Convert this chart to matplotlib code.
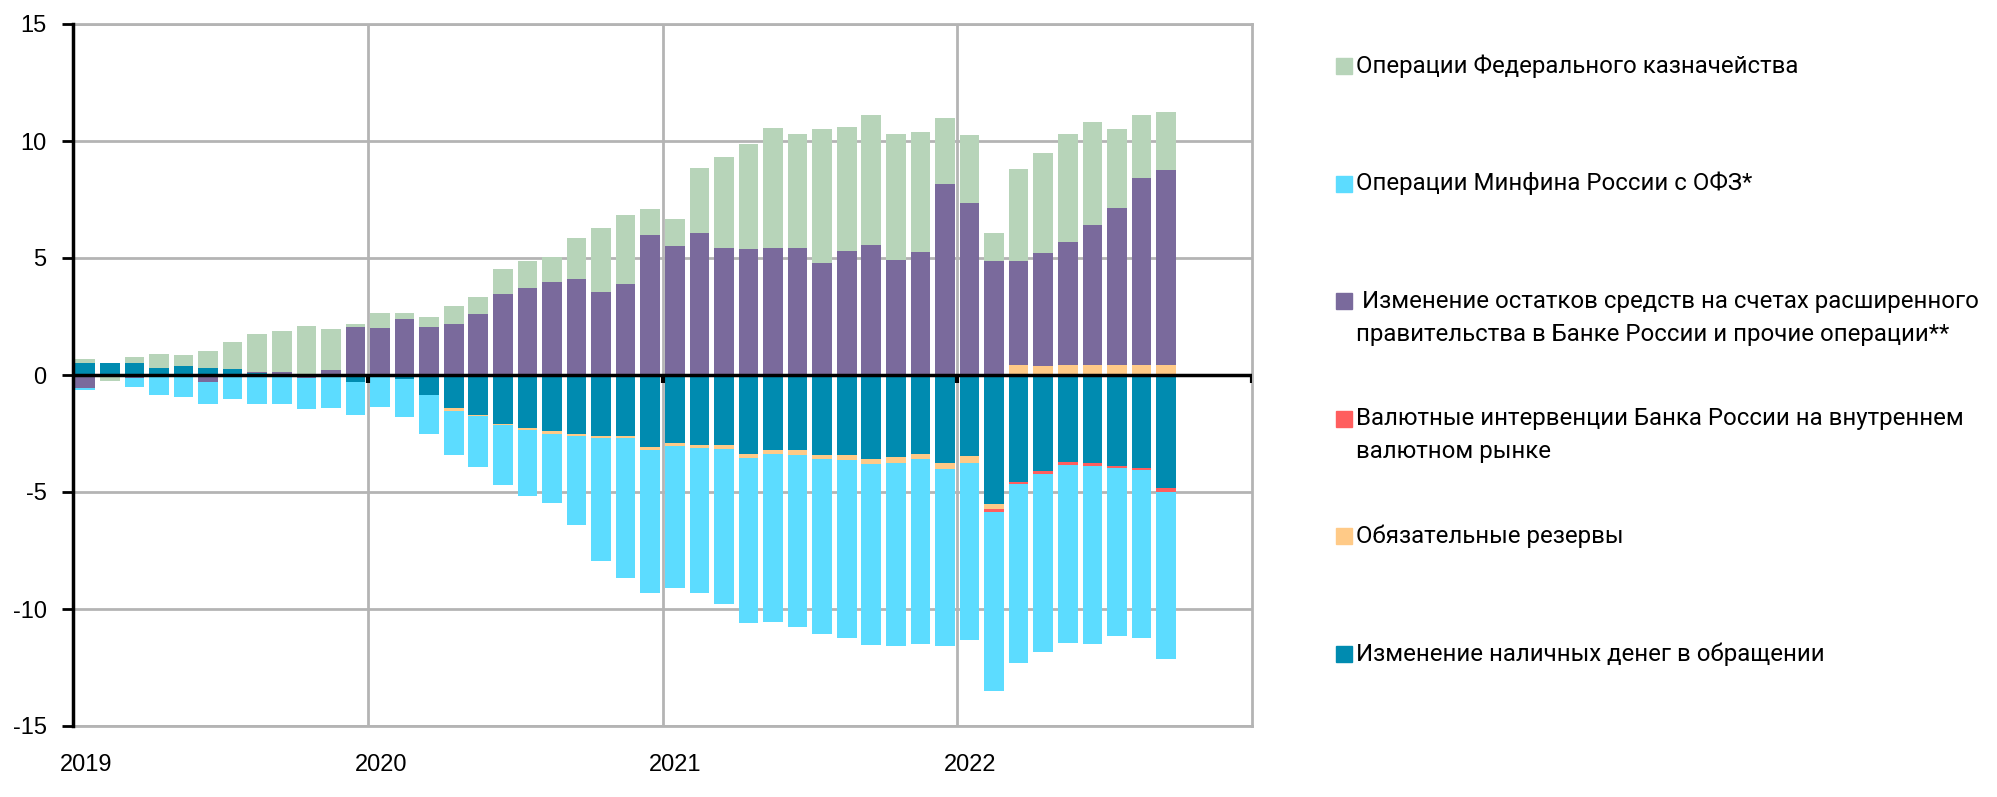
import numpy as np
import pandas as pd
import matplotlib
matplotlib.use("Agg")
import matplotlib.pyplot as plt
import matplotlib.transforms as mtransforms
from matplotlib.patches import Rectangle

plt.rcParams["axes.unicode_minus"] = False

# monthly data, Jan 2019 - Sep 2022, trn rub
months = pd.date_range("2019-01-01", periods=45, freq="MS")

cash = [0.50, 0.50, 0.50, 0.28, 0.37, 0.28, 0.24, 0.10, 0.03, 0.06, 0.06, -0.30,
        -0.05, -0.15, -0.87, -1.43, -1.70, -2.09, -2.28, -2.41, -2.54, -2.61, -2.59, -3.09,
        -2.89, -3.00, -3.00, -3.39, -3.22, -3.22, -3.43, -3.43, -3.57, -3.52, -3.39, -3.78,
        -3.48, -5.50, -4.57, -4.11, -3.70, -3.78, -3.87, -3.96, -4.85]
reserves = [0, 0, 0, 0, 0, 0, 0, 0, 0, 0, 0, 0,
            0, 0, 0, -0.09, -0.07, -0.06, -0.09, -0.09, -0.07, -0.09, -0.11, -0.13,
            -0.13, -0.13, -0.17, -0.17, -0.17, -0.22, -0.17, -0.22, -0.22, -0.22, -0.22, -0.22,
            -0.26, -0.22, 0.41, 0.37, 0.41, 0.41, 0.41, 0.41, 0.41]
fx = [0] * 36 + [0, -0.13, -0.09, -0.11, -0.13, -0.09, -0.09, -0.09, -0.13]
govt = [-0.54, -0.05, -0.13, -0.08, 0.0, -0.28, 0.0, 0.02, 0.08, -0.14, 0.17, 2.04,
        2.00, 2.41, 2.04, 2.17, 2.59, 3.46, 3.70, 3.96, 4.09, 3.54, 3.91, 5.98,
        5.50, 6.07, 5.41, 5.37, 5.41, 5.41, 4.78, 5.28, 5.54, 4.93, 5.24, 8.15,
        7.35, 4.89, 4.48, 4.83, 5.26, 5.98, 6.72, 8.00, 8.35]
ofz = [-0.11, 0.0, -0.39, -0.78, -0.96, -0.98, -1.04, -1.22, -1.26, -1.33, -1.40, -1.39,
       -1.30, -1.65, -1.63, -1.91, -2.15, -2.57, -2.78, -2.96, -3.78, -5.24, -5.96, -6.09,
       -6.07, -6.17, -6.63, -7.02, -7.15, -7.33, -7.48, -7.61, -7.74, -7.83, -7.87, -7.57,
       -7.57, -7.65, -7.65, -7.63, -7.63, -7.63, -7.20, -7.20, -7.17]
treasury = [0.17, -0.20, 0.26, 0.61, 0.48, 0.76, 1.19, 1.62, 1.76, 2.03, 1.73, 0.13,
            0.63, 0.26, 0.46, 0.80, 0.74, 1.07, 1.17, 1.07, 1.76, 2.76, 2.91, 1.11,
            1.15, 2.76, 3.89, 4.50, 5.13, 4.87, 5.72, 5.30, 5.57, 5.39, 5.13, 2.83,
            2.89, 1.17, 3.91, 4.28, 4.61, 4.41, 3.37, 2.70, 2.48]

# stacking order (from zero outwards)
series = [cash, reserves, fx, govt, ofz, treasury]
colors = ["#008bb0", "#ffca87", "#ff5e5e", "#7a6a9c", "#5cdcff", "#b7d4b9"]
labels = ["Изменение наличных денег в обращении",
          "Обязательные резервы",
          "Валютные интервенции Банка России на внутреннем\nвалютном рынке",
          " Изменение остатков средств на счетах расширенного\nправительства в Банке России и прочие операции**",
          "Операции Минфина России с ОФЗ*",
          "Операции Федерального казначейства"]

year_ticks = [2019, 2020, 2021, 2022]

W, H = 1997, 797
fig = plt.figure(figsize=(W / 100, H / 100), dpi=100)
left, right, top, bottom = 73, 1252, 24, 726
ax = fig.add_axes([left / W, 1 - bottom / H, (right - left) / W, (bottom - top) / H])

start = months[0]
x = np.array([(m.year - start.year) * 12 + m.month - 1 for m in months]) + 0.5

pos = np.zeros(len(x))
neg = np.zeros(len(x))
for vals, c in zip(series, colors):
    v = np.array(vals, dtype=float)
    b = np.where(v >= 0, pos, neg)
    ax.bar(x, v, bottom=b, width=0.8, color=c, linewidth=0, zorder=2)
    pos = pos + np.clip(v, 0, None)
    neg = neg + np.clip(v, None, 0)

grid_c = "#b4b4b4"
ax.set_xlim(0, 48)
ax.set_ylim(-15, 15)
ax.set_yticks(range(-15, 16, 5))
ax.set_xticks([(y - start.year) * 12 for y in year_ticks])
ax.set_xticklabels([str(y) for y in year_ticks])
ax.grid(True, color=grid_c, linewidth=2, zorder=0)
ax.set_axisbelow(True)

for s in ["top", "right", "bottom"]:
    ax.spines[s].set_color(grid_c)
    ax.spines[s].set_linewidth(2)
ax.spines["left"].set_color("black")
ax.spines["left"].set_linewidth(2.5)
ax.spines["left"].set_zorder(4)

ax.tick_params(axis="y", direction="out", length=8, width=2, color="black", pad=11,
               labelsize=17)
ax.tick_params(axis="x", length=0, pad=20, labelsize=17)
for lab in ax.get_yticklabels() + ax.get_xticklabels():
    lab.set_fontfamily("Liberation Sans")

# year labels sit slightly right of the gridlines
offset = mtransforms.ScaledTranslation(13 / 100, 0, fig.dpi_scale_trans)
for lab in ax.get_xticklabels():
    lab.set_transform(lab.get_transform() + offset)

ax.axhline(0, color="black", linewidth=2.5, zorder=3)
ax.vlines([12, 24, 36, 48], -0.35, 0, colors="black", linewidth=3, zorder=3)

# legend drawn by hand on the right
leg_order = list(range(len(labels)))[::-1]
y0, step, line_gap = 66, 117.6, 33
for k, i in enumerate(leg_order):
    yc = y0 + k * step
    fig.patches.append(Rectangle((1336 / W, 1 - (yc + 8) / H), 16 / W, 16 / H,
                                 transform=fig.transFigure, color=colors[i]))
    for j, line in enumerate(labels[i].split("\n")):
        fig.text(1356 / W, 1 - (yc + j * line_gap) / H, line, fontsize=17.3,
                 family="Roboto", va="center", ha="left", color="black")

fig.savefig("out.png", dpi=100)
